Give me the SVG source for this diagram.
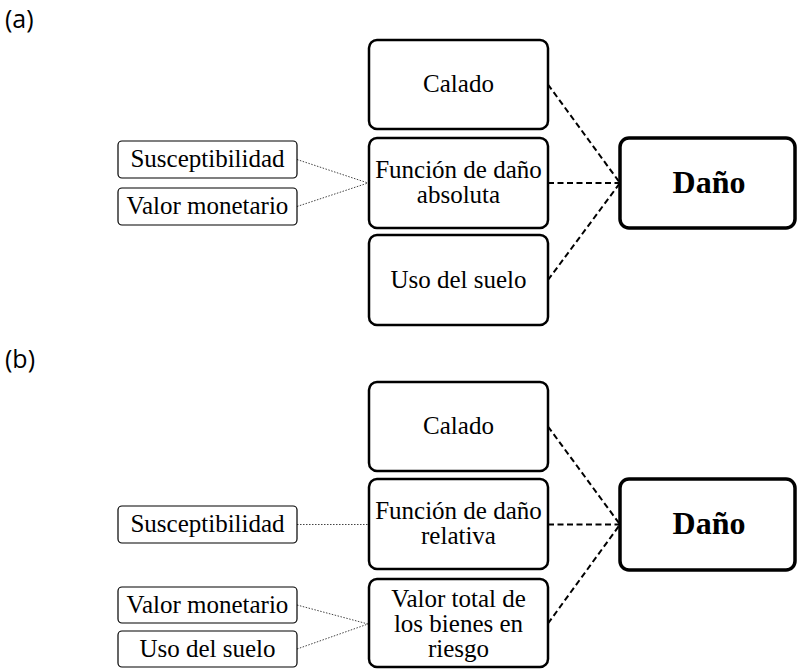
<svg xmlns="http://www.w3.org/2000/svg" width="797" height="669" viewBox="0 0 797 669">
<style>
.big{fill:#fff;stroke:#000;stroke-width:2.5}
.out{fill:#fff;stroke:#000;stroke-width:3.5}
.small{fill:#fff;stroke:#000;stroke-width:1.2}
.t{font-family:"Liberation Serif","DejaVu Serif",serif;font-size:25px;text-anchor:middle;fill:#000}
.tb{font-family:"Liberation Serif","DejaVu Serif",serif;font-size:32px;font-weight:bold;text-anchor:middle;fill:#000}
.lab{font-family:"Open Sans","Liberation Sans",sans-serif;font-size:25px;fill:#000}
.dash{stroke:#000;stroke-width:2;stroke-dasharray:6 3.5;fill:none}
.dot{stroke:#444;stroke-width:1;stroke-dasharray:1.5 1.5;fill:none}
</style>
<rect width="797" height="669" fill="#fff"/>
<text class="lab" x="5" y="28">(a)</text>
<text class="lab" x="5" y="368">(b)</text>
<g id="connectors">
<line class="dot" x1="297" y1="159.5" x2="368" y2="183"/>
<line class="dot" x1="297" y1="206.5" x2="368" y2="183"/>
<line class="dash" x1="548" y1="84.5" x2="620" y2="183"/>
<line class="dash" x1="548" y1="183" x2="620" y2="183"/>
<line class="dash" x1="548" y1="280" x2="620" y2="183"/>
<line class="dot" x1="297" y1="524.5" x2="368" y2="524.5"/>
<line class="dot" x1="297" y1="605" x2="368" y2="624"/>
<line class="dot" x1="297" y1="649" x2="368" y2="624"/>
<line class="dash" x1="548" y1="426.5" x2="620" y2="524.5"/>
<line class="dash" x1="548" y1="524.5" x2="620" y2="524.5"/>
<line class="dash" x1="548" y1="623.5" x2="620" y2="524.5"/>
</g>
<g id="a-calado"><rect class="big" x="369" y="40" width="179" height="89" rx="8"/><text class="t" x="458.5" y="92">Calado</text></g>
<g id="a-funcion"><rect class="big" x="369" y="138" width="179" height="90" rx="8"/><text class="t" x="458.5" y="178">Función de daño</text><text class="t" x="458.5" y="203">absoluta</text></g>
<g id="a-uso"><rect class="big" x="369" y="235" width="179" height="90" rx="8"/><text class="t" x="458.5" y="288">Uso del suelo</text></g>
<g id="a-susc"><rect class="small" x="118" y="141" width="179" height="37" rx="4"/><text class="t" x="207.5" y="167">Susceptibilidad</text></g>
<g id="a-valor"><rect class="small" x="118" y="188" width="179" height="37" rx="4"/><text class="t" x="207.5" y="214">Valor monetario</text></g>
<g id="a-dano"><rect class="out" x="620" y="138" width="175" height="90" rx="9"/><text class="tb" x="709" y="193">Daño</text></g>
<g id="b-calado"><rect class="big" x="369" y="382" width="179" height="89" rx="8"/><text class="t" x="458.5" y="434">Calado</text></g>
<g id="b-funcion"><rect class="big" x="369" y="479" width="179" height="90" rx="8"/><text class="t" x="458.5" y="519">Función de daño</text><text class="t" x="458.5" y="544">relativa</text></g>
<g id="b-valortotal"><rect class="big" x="369" y="579" width="179" height="88" rx="8"/><text class="t" x="458.5" y="607">Valor total de</text><text class="t" x="458.5" y="632">los bienes en</text><text class="t" x="458.5" y="657">riesgo</text></g>
<g id="b-susc"><rect class="small" x="118" y="506" width="179" height="37" rx="4"/><text class="t" x="207.5" y="532">Susceptibilidad</text></g>
<g id="b-valor"><rect class="small" x="118" y="587" width="179" height="36" rx="4"/><text class="t" x="207.5" y="613">Valor monetario</text></g>
<g id="b-uso"><rect class="small" x="118" y="631" width="179" height="36" rx="4"/><text class="t" x="207.5" y="657">Uso del suelo</text></g>
<g id="b-dano"><rect class="out" x="620" y="479" width="175" height="91" rx="9"/><text class="tb" x="709" y="534">Daño</text></g>
</svg>
